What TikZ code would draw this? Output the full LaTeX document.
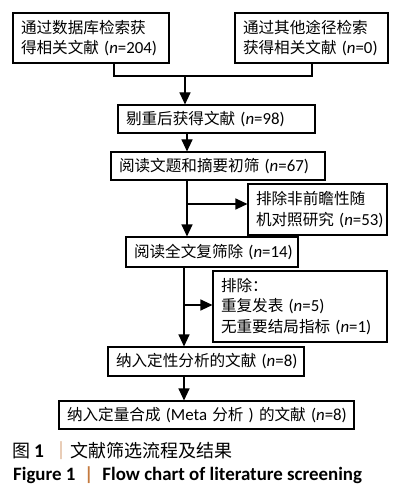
\documentclass[tikz,border=0pt]{standalone}
\usepackage{fontspec}
\setmainfont{Noto Sans CJK SC}
\newfontfamily\lat{Carlito}[Scale=1.08]
\usetikzlibrary{arrows.meta}
\definecolor{barcol}{RGB}{196,122,62}
\newcommand\nn[1]{{\lat~(\textit{n}=#1)}}
\tikzset{
	box/.style={draw, line width=1.1pt, align=left, inner xsep=8pt, inner ysep=0pt,
		font=\fontsize{15.6}{20.5}\selectfont},
	arr/.style={line width=1.1pt, -{Triangle[length=12pt,width=11pt]}},
	ln/.style={line width=1.1pt}
}
\begin{document}
\begin{tikzpicture}[x=1pt, y=-1pt]
	\useasboundingbox (0,0) rectangle (404,497);
	\node[box, text width=140, minimum height=50] (db) at (91,38) {通过数据库检索获\\得相关文献\nn{204}};
	\node[box, text width=137, minimum height=50] (other) at (311.5,38) {通过其他途径检索\\获得相关文献\nn{0}};
	\node[box, text width=181, minimum height=28] (dedup) at (216.5,119) {剔重后获得文献\nn{98}};
	\node[box, text width=198, minimum height=28] (title) at (218,166) {阅读文题和摘要初筛\nn{67}};
	\node[box, text width=123, minimum height=51] (exc1) at (317.5,209.5) {排除非前瞻性随\\机对照研究\nn{53}};
	\node[box, text width=156, minimum height=30] (full) at (212,252) {阅读全文复筛除\nn{14}};
	\node[box, text width=158, minimum height=71] (exc2) at (300,306.5) {排除：\\重复发表\nn{5}\\无重要结局指标\nn{1}};
	\node[box, text width=180, minimum height=29] (qual) at (206,361.5) {纳入定性分析的文献\nn{8}};
	\node[box, text width=279, minimum height=28] (meta) at (206.5,415) {纳入定量合成{\lat~(Meta~}分析{\lat~)~}的文献\nn{8}};

	\coordinate (jl) at (114,76);
	\coordinate (jr) at (312,76);
	\coordinate (jm) at (185,76);
	\coordinate (s1) at (187,204);
	\coordinate (s2) at (184,305);
	\draw[ln] (db.south -| jl) -- (jl) -- (jr) -- (other.south -| jr);
	\draw[arr] (jm) -- (dedup.north -| jm);
	\draw[arr] (dedup.south -| s1) -- (title.north -| s1);
	\draw[arr] (title.south -| s1) -- (full.north -| s1);
	\draw[arr] (s1) -- (exc1.west |- s1);
	\draw[arr] (full.south -| s2) -- (qual.north -| s2);
	\draw[arr] (s2) -- (exc2.west |- s2);
	\draw[arr] (qual.south -| s2) -- (meta.north -| s2);

	\node[anchor=west, inner sep=0pt, font=\fontsize{18}{20}\selectfont] (cap) at (12,451)
		{图 {\lat\bfseries 1}\hspace{8pt}{\color{barcol}｜}文献筛选流程及结果};
	\node[anchor=west, inner sep=0pt, font=\fontsize{17.5}{20}\selectfont\lat\bfseries] (capen) at (13,475)
		{Figure 1\hspace{9pt}{\color{barcol}|}\hspace{9pt}Flow chart of literature screening};
\end{tikzpicture}
\end{document}
